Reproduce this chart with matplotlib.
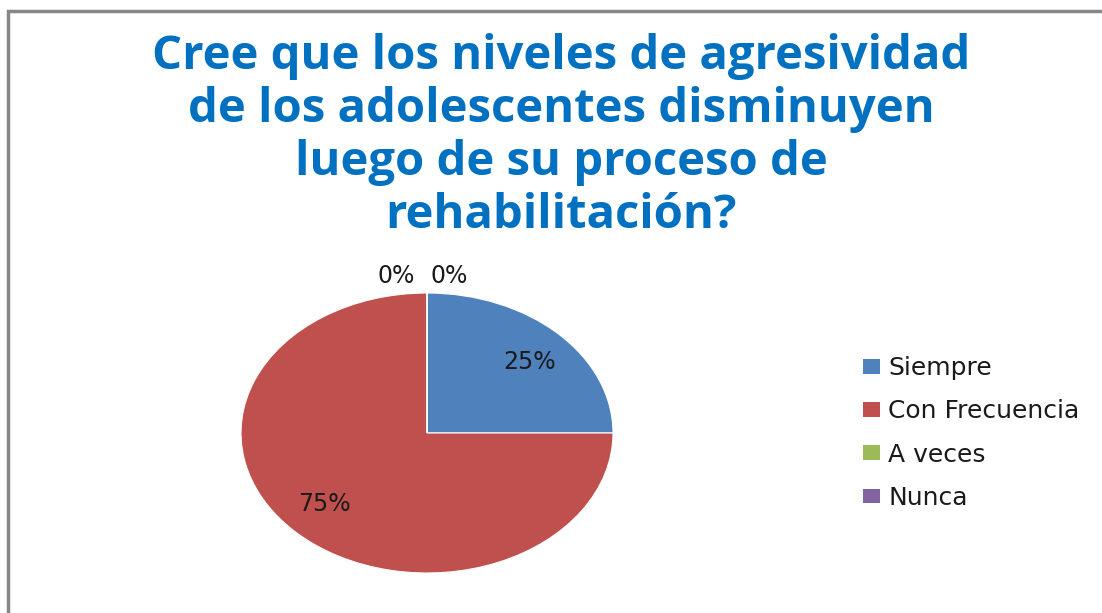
import matplotlib
matplotlib.use("Agg")
import matplotlib.pyplot as plt
from matplotlib.patches import Rectangle
import numpy as np

categories = ["Siempre", "Con Frecuencia", "A veces", "Nunca"]
values = [25, 75, 0, 0]
colors = ["#4F81BD", "#C0504D", "#9BBB59", "#8064A2"]
title = "Cree que los niveles de agresividad\nde los adolescentes disminuyen\nluego de su proceso de\nrehabilitación?"

W, H = 1102, 613
fig = plt.figure(figsize=(W / 100, H / 100), dpi=100)
fig.patch.set_facecolor("white")

# outer border (left and top visible)
fig.add_artist(Rectangle((8 / W, -0.1), 1.2, (H - 11) / H + 0.1, transform=fig.transFigure,
                         fill=False, edgecolor="#878787", linewidth=2.5))

fig.text(561 / W, 1 - 33 / H, title, ha="center", va="top", color="#0070C0",
         fontsize=34, fontweight="bold", family="Open Sans", linespacing=1.17)

cx, cy, rx, ry = 427, 433, 186, 140
ax = fig.add_axes([(cx - rx) / W, 1 - (cy + ry) / H, 2 * rx / W, 2 * ry / H])
wedges, _ = ax.pie(values, colors=colors, startangle=90, counterclock=False, radius=1,
                   wedgeprops=dict(linewidth=0.8, edgecolor="white"))
ax.set_aspect("auto")
ax.set_xlim(-1, 1)
ax.set_ylim(-1, 1)
ax.axis("off")

# data labels
total = sum(values)
zero_offsets = {2: -0.167, 3: 0.118}
for i, (w, v) in enumerate(zip(wedges, values)):
    ang = np.deg2rad((w.theta1 + w.theta2) / 2)
    pct = f"{round(100 * v / total)}%"
    if v > 0:
        x, y = 0.78 * np.cos(ang), 0.72 * np.sin(ang)
    else:
        x, y = zero_offsets[i], 1.12
    ax.text(x, y, pct, ha="center", va="center", fontsize=17, color="#1a1a1a",
            family="DejaVu Sans", clip_on=False)

handles = [Rectangle((0, 0), 1, 1, facecolor=c) for c in colors]
leg = fig.legend(handles, categories, loc="center left", bbox_to_anchor=(840 / W, 1 - 433 / H),
                 frameon=False, fontsize=18, handlelength=0.68, handleheight=0.52,
                 labelspacing=0.77, handletextpad=0.35, labelcolor="#1a1a1a")

fig.savefig("out.png", dpi=100, facecolor="white")
